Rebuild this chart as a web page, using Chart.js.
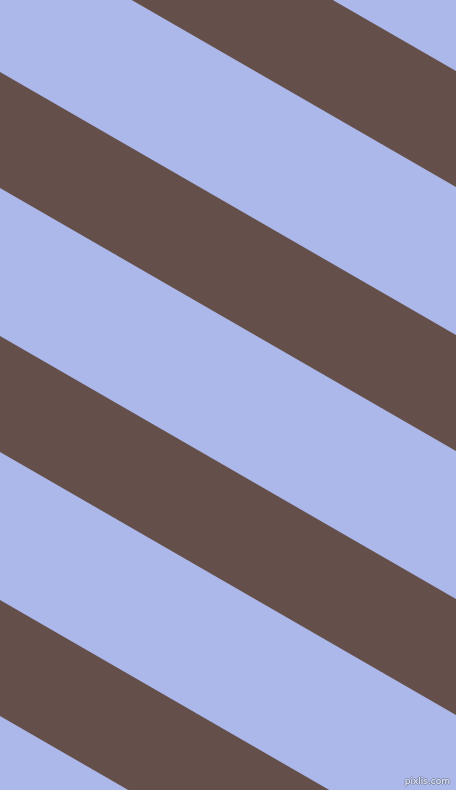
<!DOCTYPE html>
<html>
<head>
<meta charset="utf-8">
<script src="https://cdn.jsdelivr.net/npm/chart.js@4"></script>
<style>
  html, body { margin: 0; padding: 0; background: #abb8e9; overflow: hidden; }
  #wrap { position: relative; width: 456px; height: 790px; }
  #stripes { display: block; }
  .mark {
    position: absolute; right: 6px; bottom: 4px;
    font: 9px "DejaVu Sans", sans-serif; color: #e8ecf8;
    text-shadow: 1px 0 #7f88a6, -1px 0 #7f88a6, 0 1px #7f88a6, 0 -1px #7f88a6;
  }
</style>
</head>
<body>
<div id="wrap">
  <canvas id="stripes" width="456" height="790"></canvas>
  <div class="mark">pixlis.com</div>
</div>
<script>
// Stripe data: y of each stripe's upper edge where it meets the left side (x = 0)
const stripeTops = [-192, 72, 336, 600];
const stripeWidth = 116;     // vertical thickness of a stripe
const stripeSlope = 0.577;   // drop per unit of x (about 30 degrees)
const xRange = [0, 456];
const yRange = [0, 790];

const brown = '#654f4a';

// every stripe is two edge lines, the lower one filled up to the upper one
const datasets = [];
stripeTops.forEach(top => {
    const upper = xRange.map(x => ({ x: x, y: top + stripeSlope * x }));
    const lower = xRange.map(x => ({ x: x, y: top + stripeWidth + stripeSlope * x }));
    datasets.push({ data: upper, showLine: true, borderWidth: 0, pointRadius: 0, fill: false });
    datasets.push({ data: lower, showLine: true, borderWidth: 0, pointRadius: 0,
        fill: '-1', backgroundColor: brown });
});

new Chart(document.getElementById('stripes'), {
    type: 'scatter',
    data: { datasets: datasets },
    options: {
        responsive: false,
        animation: false,
        events: [],
        layout: { padding: 0 },
        plugins: { legend: { display: false }, tooltip: { enabled: false } },
        scales: {
            x: { type: 'linear', min: xRange[0], max: xRange[1], display: false },
            y: { type: 'linear', min: yRange[0], max: yRange[1], reverse: true, display: false }
        }
    }
});
</script>
</body>
</html>
